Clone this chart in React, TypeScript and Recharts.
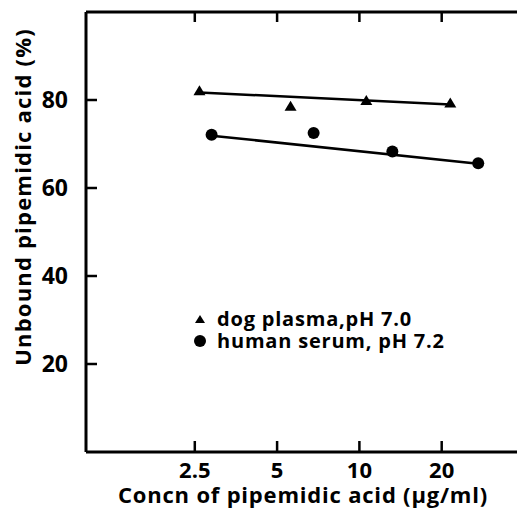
import React from 'react';
import { ComposedChart, XAxis, YAxis, Scatter, Legend } from 'recharts';

const xTicks = [2.5, 5, 10, 20];
const yTicks = [20, 40, 60, 80];
const dogPlasma = [
  { x: 2.6, y: 82.1 },
  { x: 5.6, y: 78.6 },
  { x: 10.6, y: 79.9 },
  { x: 21.5, y: 79.3 },
];
const humanSerum = [
  { x: 2.88, y: 72.1 },
  { x: 6.8, y: 72.5 },
  { x: 13.2, y: 68.3 },
  { x: 27.2, y: 65.6 },
];
const dogFit = [
  { x: 2.6, y: 81.7 },
  { x: 21.5, y: 79.0 },
];
const humanFit = [
  { x: 2.88, y: 71.9 },
  { x: 27.2, y: 65.5 },
];
const legendItems = [
  { label: 'dog plasma,pH 7.0', shape: 'triangle' },
  { label: 'human serum, pH 7.2', shape: 'circle' },
];
const xTitle = 'Concn of pipemidic acid (\u00b5g/ml)';
const yTitle = 'Unbound pipemidic acid (%)';

const FONT = '"Open Sans", "DejaVu Sans", sans-serif';

const Triangle = (p: any) => {
  const { cx, cy } = p;
  if (cx == null || cy == null) return <g />;
  return <polygon points={`${cx},${cy - 5.5} ${cx - 6},${cy + 4.5} ${cx + 6},${cy + 4.5}`} fill="#000" />;
};
const Dot = (p: any) => {
  const { cx, cy } = p;
  if (cx == null || cy == null) return <g />;
  return <circle cx={cx} cy={cy} r={6} fill="#000" />;
};
const NoShape = () => <g />;

const BottomTick = (p: any) => {
  const { x, y, payload } = p;
  return (
    <g>
      <line x1={x} y1={y} x2={x} y2={y - 11} stroke="#000" strokeWidth={2.5} />
      <text x={x} y={y + 26} textAnchor="middle" fontFamily={FONT} fontWeight={700} fontSize={22} fill="#000">
        {payload.value}
      </text>
    </g>
  );
};
const TopTick = (p: any) => {
  const { x, y } = p;
  return <line x1={x} y1={y} x2={x} y2={y + 10} stroke="#000" strokeWidth={2.5} />;
};
const LeftTick = (p: any) => {
  const { x, y, payload } = p;
  return (
    <g>
      <line x1={x} y1={y} x2={x + 11} y2={y} stroke="#000" strokeWidth={2.5} />
      <text x={x - 18} y={y + 8} textAnchor="end" fontFamily={FONT} fontWeight={700} fontSize={23} fill="#000">
        {payload.value}
      </text>
    </g>
  );
};
const RightTick = (p: any) => {
  const { x, y } = p;
  return <line x1={x} y1={y} x2={x - 10} y2={y} stroke="#000" strokeWidth={2.5} />;
};

const XTitle = (p: any) => {
  const vb = p.viewBox || { x: 86, y: 452, width: 438, height: 61 };
  return (
    <text x={vb.x + vb.width / 2 - 2} y={vb.y + 51} textAnchor="middle" fontFamily={FONT} fontWeight={700} fontSize={22} letterSpacing={0.8} fill="#000">
      {xTitle}
    </text>
  );
};
const YTitle = (p: any) => {
  const vb = p.viewBox || { x: 0, y: 12, width: 86, height: 440 };
  const cx = vb.x + 22;
  const cy = vb.y + vb.height / 2 - 35;
  return (
    <text x={cx} y={cy} transform={`rotate(-90 ${cx} ${cy})`} textAnchor="middle" dominantBaseline="central" fontFamily={FONT} fontWeight={700} fontSize={22} letterSpacing={1.2} fill="#000">
      {yTitle}
    </text>
  );
};

const renderLegend = () => (
  <div style={{ fontFamily: FONT, fontWeight: 700, fontSize: 20, color: '#000', lineHeight: '22px', letterSpacing: 0.8 }}>
    {legendItems.map((item) => (
      <div key={item.label} style={{ display: 'flex', alignItems: 'center', height: 22, whiteSpace: 'nowrap' }}>
        <svg width={20} height={16} style={{ display: 'block' }}>
          {item.shape === 'triangle' ? (
            <polygon points="10,4 5,12 15,12" fill="#000" />
          ) : (
            <circle cx={10} cy={8} r={6} fill="#000" />
          )}
        </svg>
        <span style={{ marginLeft: 7 }}>{item.label}</span>
      </div>
    ))}
  </div>
);

export default function App() {
  return (
    <div style={{ position: 'absolute', left: 0, top: 0, width: 517, height: 513, overflow: 'hidden', background: '#fff' }}>
      <ComposedChart width={540} height={513} margin={{ top: 0, right: 0, bottom: 0, left: 0 }}>
        <XAxis
          xAxisId="bottom"
          dataKey="x"
          type="number"
          scale="log"
          domain={[1, 40]}
          allowDataOverflow
          ticks={xTicks}
          interval={0}
          height={61}
          tickSize={0}
          tickMargin={0}
          tickLine={false}
          tick={<BottomTick />}
          axisLine={{ stroke: '#000', strokeWidth: 3 }}
          label={<XTitle />}
        />
        <XAxis
          xAxisId="top"
          orientation="top"
          dataKey="x"
          type="number"
          scale="log"
          domain={[1, 40]}
          allowDataOverflow
          ticks={xTicks}
          interval={0}
          height={12}
          tickSize={0}
          tickMargin={0}
          tickLine={false}
          tick={<TopTick />}
          axisLine={{ stroke: '#000', strokeWidth: 3 }}
        />
        <YAxis
          yAxisId="left"
          type="number"
          domain={[0, 100]}
          ticks={yTicks}
          interval={0}
          width={86}
          tickSize={0}
          tickMargin={0}
          tickLine={false}
          tick={<LeftTick />}
          axisLine={{ stroke: '#000', strokeWidth: 3 }}
          label={<YTitle />}
        />
        <YAxis
          yAxisId="right"
          orientation="right"
          type="number"
          domain={[0, 100]}
          ticks={yTicks}
          interval={0}
          width={16}
          tickSize={0}
          tickMargin={0}
          tickLine={false}
          tick={<RightTick />}
          axisLine={{ stroke: '#000', strokeWidth: 3 }}
        />
        <Scatter xAxisId="bottom" yAxisId="left" data={dogFit} dataKey="y" shape={<NoShape />} line={{ stroke: '#000', strokeWidth: 2.5 }} isAnimationActive={false} legendType="none" />
        <Scatter xAxisId="bottom" yAxisId="left" data={humanFit} dataKey="y" shape={<NoShape />} line={{ stroke: '#000', strokeWidth: 2.5 }} isAnimationActive={false} legendType="none" />
        <Scatter xAxisId="bottom" yAxisId="left" data={dogPlasma} dataKey="y" shape={<Triangle />} isAnimationActive={false} />
        <Scatter xAxisId="bottom" yAxisId="left" data={humanSerum} dataKey="y" shape={<Dot />} isAnimationActive={false} />
        <Legend
          layout="vertical"
          align="center"
          verticalAlign="middle"
          content={renderLegend}
          wrapperStyle={{ left: 190, top: 308, width: 300 }}
        />
      </ComposedChart>
    </div>
  );
}
